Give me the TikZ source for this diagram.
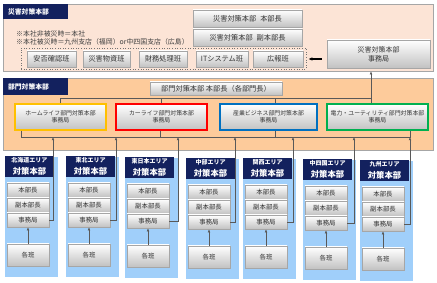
\documentclass[tikz,border=0pt]{standalone}
\usepackage{fontspec}
\setmainfont{Noto Sans CJK JP}
\usetikzlibrary{arrows.meta,shadows}
\definecolor{navy}{HTML}{13215E}
\definecolor{peachA}{HTML}{FCE4D6}
\definecolor{peachB}{HTML}{FDCB9B}
\definecolor{areabg}{HTML}{A0CFFA}
\definecolor{linegray}{HTML}{595959}
\definecolor{bordergray}{HTML}{A6A6A6}
\definecolor{cOrange}{HTML}{FFC000}
\definecolor{cRed}{HTML}{FF0000}
\definecolor{cBlue}{HTML}{0070C0}
\definecolor{cGreen}{HTML}{00B050}
\begin{document}
\begin{tikzpicture}[x=1pt,y=-1pt,
  panel/.style={draw=bordergray,line width=0.6pt,inner sep=0pt},
  hdr/.style={fill=navy,text=white,font=\fontsize{6.8}{8}\selectfont\bfseries,inner sep=0pt,anchor=center},
  gbox/.style={draw=bordergray,line width=0.5pt,top color=white,bottom color=black!24,inner sep=0pt,align=center,text=black!80,
     drop shadow={shadow xshift=0.6pt,shadow yshift=-0.6pt,fill=black!45,opacity=0.6}},
  dbox/.style={gbox,line width=1.3pt,font=\fontsize{5.9}{7.2}\selectfont},
  conn/.style={draw=linegray,line width=0.8pt},
  arr/.style={conn,-{Latex[length=3.2pt,width=2.8pt]}},
]
\useasboundingbox (0,0) rectangle (437,283);
% ---------- top panel ----------
\node[panel,fill=peachA,minimum width=430pt,minimum height=67pt] (top) at (218,37.5) {};
\node[hdr,minimum width=65pt,minimum height=15pt] (tophdr) at (35.5,11.5) {\hspace*{-14pt}災害対策本部};
\node[anchor=west,inner sep=0pt,font=\fontsize{6.9}{7}\selectfont,text=black!75] (note1) at (16,34) {※本社非被災時＝本社};
\node[anchor=west,inner sep=0pt,font=\fontsize{6.9}{7}\selectfont,text=black!75] (note2) at (16,41.5) {※本社被災時＝九州支店（福岡）or中四国支店（広島）};
\node[draw=black!55,dotted,line width=0.6pt,minimum width=285pt,minimum height=21pt,inner sep=0pt] (team) at (163.5,58.5) {};
\begin{scope}[every node/.style={gbox,minimum height=16pt,font=\fontsize{7.2}{8}\selectfont}]
\node[minimum width=49pt] (b1) at (51.5,59) {安否確認班};
\node[minimum width=47pt] (b2) at (106.5,59) {災害物資班};
\node[minimum width=48pt] (b3) at (163,59) {財務処理班};
\node[minimum width=52pt] (b4) at (222,59) {ITシステム班};
\node[minimum width=50pt] (b5) at (278,59) {広報班};
\node[minimum width=109pt,minimum height=17pt] (chief) at (247.5,18.5) {災害対策本部\hspace{4pt}本部長};
\node[minimum width=109pt,minimum height=17pt] (deputy) at (247.5,37.5) {災害対策本部\hspace{4pt}副本部長};
\node[minimum width=103pt,minimum height=28pt,font=\fontsize{7}{9}\selectfont] (sec) at (378.5,54) {災害対策本部\\事務局};
\end{scope}
\coordinate (secl) at ([xshift=-5pt]sec.west |- 0,59);
\draw[black,line width=1.2pt,-{Latex[length=4pt,width=3.5pt]}] (secl) -- ([xshift=2pt]team.east |- secl);
% ---------- middle panel ----------
\node[panel,fill=peachB,minimum width=430pt,minimum height=72pt] (mid) at (218,114) {};
\node[hdr,minimum width=65pt,minimum height=17pt] (midhdr) at (35.5,86.5) {\hspace*{-14pt}部門対策本部};
\node[gbox,minimum width=132pt,minimum height=13pt,font=\fontsize{7.2}{8}\selectfont] (dchief) at (216,88.5) {部門対策本部 本部長（各部門長）};
\node[dbox,draw=cOrange,minimum width=91pt,minimum height=26pt] (home) at (60.5,117) {ホームライフ部門対策本部\\事務局};
\node[dbox,draw=cRed,minimum width=91pt,minimum height=26pt] (car) at (161.5,117) {カーライフ部門対策本部\\事務局};
\node[dbox,draw=cBlue,minimum width=97pt,minimum height=26pt] (ind) at (268.5,117) {産業ビジネス部門対策本部\\事務局};
\node[dbox,draw=cGreen,minimum width=101pt,minimum height=26pt] (pow) at (377.5,117) {電力・ユーティリティ部門対策本部\\事務局};
% upper bracket
\coordinate (tb) at (0,98);
\coordinate (indn) at ([xshift=6.5pt]ind.north);
\coordinate (pown) at ([xshift=-6.5pt]pow.north);
\draw[conn] (home.north) -- (home.north |- tb) -- (pown |- tb);
\draw[conn] (car.north) -- (car.north |- tb);
\draw[conn] (indn) -- (indn |- tb);
\draw[arr] (pown) -- (pown |- top.south);
% lower bracket
\coordinate (bb) at (0,137);
\coordinate (homes) at ([xshift=-39.5pt]home.south);
\coordinate (cars) at ([xshift=-1.5pt]car.south);
\coordinate (inds) at ([xshift=6.5pt]ind.south);
\coordinate (pows) at ([xshift=32.5pt]pow.south);
\draw[conn] (homes) -- (homes |- bb) -- (pows |- bb) -- (pows);
\draw[conn] (cars) -- (cars |- bb);
\draw[conn] (inds) -- (inds |- bb);
% ---------- area columns ----------
\foreach \xs/\cx/\dy/\na/\i in {4/53/0/北海道/1, 65/116/0/東北/2, 124/178/1/東日本/3, 185/235/2/中部/4, 242/293/2/関西/5, 302/354/3/中四国/6, 359/410/4/九州/7}{
  \node[fill=areabg,draw=white,line width=0.4pt,minimum width=54pt,minimum height=121pt,inner sep=0pt] (bg\i) at (\xs+27,216.5+\dy) {};
  \node[fill=navy,text=white,align=center,inner sep=0pt,minimum width=49pt,minimum height=21pt] (h\i) at (\xs+25.5,166.5+\dy)
     {\fontsize{6}{7}\selectfont\bfseries \na エリア\\[-0.5pt]\fontsize{8.3}{9}\selectfont\bfseries 対策本部};
  \begin{scope}[every node/.style={gbox,minimum width=42pt,font=\fontsize{6.4}{7}\selectfont}]
  \node[minimum height=14pt] (c\i) at (\xs+24,190+\dy) {本部長};
  \node[minimum height=14pt] (d\i) at (\xs+24,205+\dy) {副本部長};
  \node[minimum height=14pt] (s\i) at (\xs+24,220+\dy) {事務局};
  \node[minimum height=22pt] (t\i) at (\xs+24,255+\dy) {各班};
  \end{scope}
  \draw[arr] (t\i.north) -- (s\i.south);
  \coordinate (k\i) at (\cx,137);
  \draw[arr] (s\i.east) -- (s\i.east -| k\i) -- (k\i);
}
\end{tikzpicture}
\end{document}
